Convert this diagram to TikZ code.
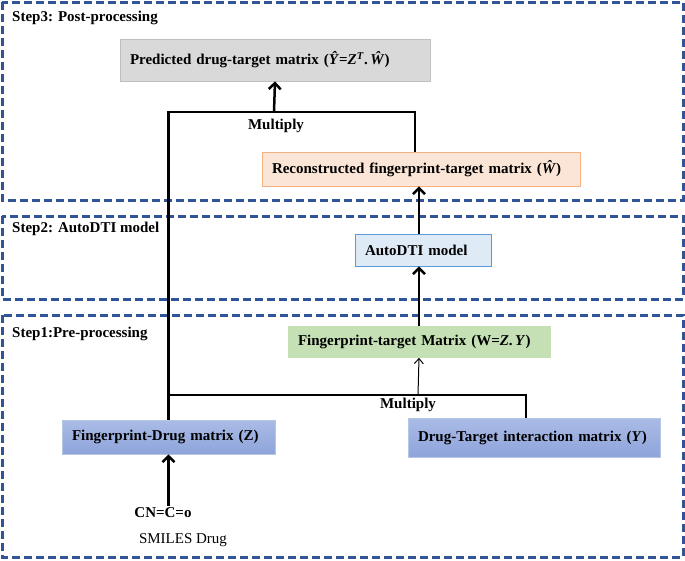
\documentclass[tikz,border=0pt]{standalone}
\usepackage{fontspec}
\setmainfont{Liberation Serif}
\usetikzlibrary{arrows.meta}

\definecolor{framecol}{RGB}{47,85,151}
\definecolor{predfill}{RGB}{217,217,217}
\definecolor{preddraw}{RGB}{191,191,191}
\definecolor{recfill}{RGB}{251,229,214}
\definecolor{recdraw}{RGB}{244,177,131}
\definecolor{autofill}{RGB}{222,235,247}
\definecolor{autodraw}{RGB}{91,155,213}
\definecolor{greenfill}{RGB}{197,224,180}
\definecolor{bluetop}{RGB}{170,187,229}
\definecolor{bluebot}{RGB}{142,164,219}
\definecolor{bluedraw}{RGB}{180,199,231}

\begin{document}
\begin{tikzpicture}[x=1pt,y=-1pt,>={Straight Barb[length=6pt,width=12pt]},line width=2.5pt,
                font=\fontsize{15}{18}\selectfont\bfseries,
                main node/.style={draw,line width=0.8pt,inner xsep=10pt,inner ysep=0pt,align=left},
                blue node/.style={main node,draw=bluedraw,top color=bluetop,bottom color=bluebot},
                step frame/.style={draw=framecol,line width=3pt,dash pattern=on 8pt off 4pt},
                lbl/.style={inner sep=1pt}]

  \useasboundingbox (0,0) rectangle (685,560);

  % dashed step boxes
  \draw[step frame] (2,2) rectangle (683,200);
  \draw[step frame] (2,216) rectangle (683,299);
  \draw[step frame] (2,315) rectangle (683,557);
  \node[lbl,anchor=west] (s3) at (10,18) {Step3: Post-processing};
  \node[lbl,anchor=west] (s2) at (10,229) {Step2: AutoDTI model};
  \node[lbl,anchor=west] (s1) at (10,334) {Step1:Pre-processing};

  \node[main node,fill=predfill,draw=preddraw,text width=290pt,minimum height=42pt] (pred) at (275,60)
    {Predicted drug-target matrix (\textit{Ŷ}=\textit{Z}\textsuperscript{\textit{T}}.\,\textit{Ŵ})};
  \node[main node,fill=recfill,draw=recdraw,text width=298pt,minimum height=34pt] (rec) at (421,169)
    {Reconstructed fingerprint-target matrix (\textit{Ŵ})};
  \node[main node,fill=autofill,draw=autodraw,text width=116pt,minimum height=32pt] (auto) at (423,250)
    {AutoDTI model};
  \node[main node,fill=greenfill,draw=greenfill,text width=242pt,minimum height=31pt] (fpt) at (419,342)
    {Fingerprint-target Matrix (W=\textit{Z}.\,\textit{Y})};
  \node[blue node,text width=193pt,minimum height=34pt] (fd) at (168.5,437)
    {Fingerprint-Drug matrix (Z)};
  \node[blue node,text width=232pt,minimum height=39pt] (dti) at (534,437.5)
    {Drug-Target interaction matrix (\textit{Y})};

  \node[lbl] (cn) at (163,513) {CN=C=o};
  \node[lbl,font=\fontsize{15}{18}\selectfont] (smi) at (183,540) {SMILES Drug};
  \node[lbl] (m1) at (276,126) {Multiply};
  \node[lbl] (m2) at (408,405) {Multiply};

  \coordinate (mul1) at (274,112);
  \coordinate (mul2) at (418,395);

  % multiply joints
  \draw (fd.north) |- (mul1) -| ([xshift=-6pt]rec.north);
  \draw (fd.north |- mul2) -| ([xshift=-8pt]dti.north);

  \path[->]
    (mul1) edge (pred.south)
    (fpt.north) edge (fpt.north |- auto.south)
    (fpt.north |- auto.north) edge (fpt.north |- rec.south)
    (fd.south |- cn.north) edge (fd.south)
    (mul2) edge [line width=1pt,>={Straight Barb[length=5pt,width=9pt]}] (fpt.south);
\end{tikzpicture}
\end{document}
